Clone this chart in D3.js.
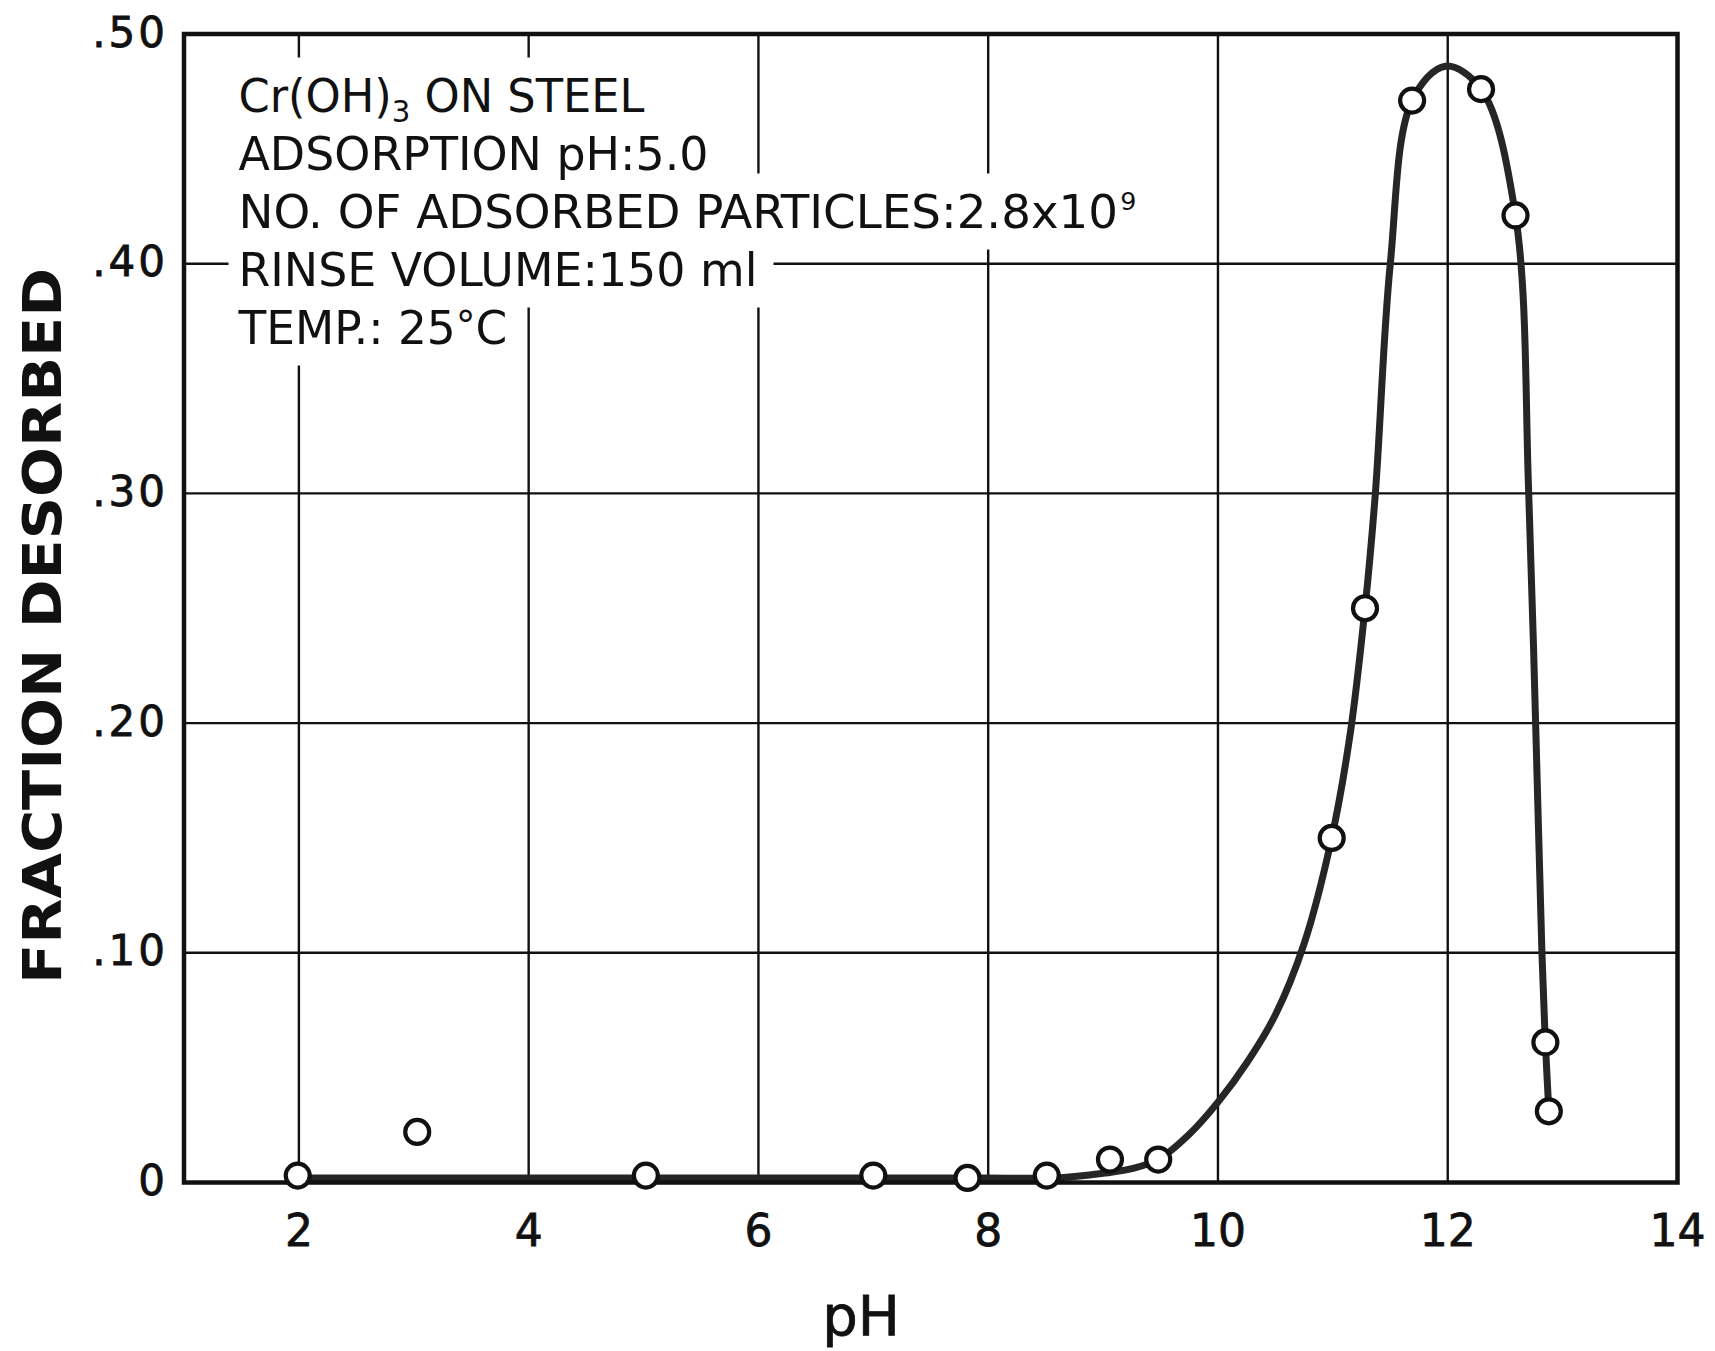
<!DOCTYPE html>
<html>
<head>
<meta charset="utf-8">
<script src="https://cdn.jsdelivr.net/npm/d3@7"></script>
<style>
  html, body { margin: 0; padding: 0; background: #fff; }
  svg { display: block; }
</style>
</head>
<body>
<script>
// Measured points: pH of the rinse vs. fraction of particles desorbed
const phValues = [1.99, 3.03, 5.02, 7.00, 7.82, 8.51, 9.06, 9.48, 10.99, 11.28, 11.69, 12.29, 12.59, 12.85, 12.88];
const fractionDesorbed = [0.003, 0.022, 0.003, 0.003, 0.002, 0.003, 0.010, 0.010, 0.150, 0.250, 0.471, 0.476, 0.421, 0.061, 0.031];

// Hand-drawn smooth curve through the measurements
const curvePH = [2.0, 3.0, 4.0, 5.0, 6.0, 7.0, 8.0, 8.6, 9.0, 9.25, 9.48, 9.75, 10.0, 10.25, 10.5, 10.75, 10.99, 11.15, 11.28, 11.37, 11.5, 11.69, 11.98, 12.29, 12.59, 12.705, 12.765, 12.82, 12.85, 12.88];
const curveFraction = [0.002, 0.002, 0.002, 0.002, 0.002, 0.002, 0.002, 0.002, 0.004, 0.006, 0.010, 0.021, 0.035, 0.052, 0.073, 0.104, 0.150, 0.195, 0.250, 0.300, 0.400, 0.471, 0.486, 0.476, 0.421, 0.300, 0.200, 0.100, 0.061, 0.031];

// Axis ticks and labels
const xTickValues = [2, 4, 6, 8, 10, 12, 14];
const xTickLabels = ["2", "4", "6", "8", "10", "12", "14"];
const yTickValues = [0, 0.1, 0.2, 0.3, 0.4, 0.5];
const yTickLabels = ["0", ".10", ".20", ".30", ".40", ".50"];
const xGridValues = [2, 4, 6, 8, 10, 12];
const yGridValues = [0.1, 0.2, 0.3, 0.4];

const xTitle = "pH";
const yTitle = "FRACTION DESORBED";

// Experimental conditions, one entry per line (segments allow sub/superscripts)
const noteLines = [
  [{ t: "Cr(OH)" }, { t: "3", sub: true }, { t: " ON STEEL" }],
  [{ t: "ADSORPTION pH:5.0" }],
  [{ t: "NO. OF ADSORBED PARTICLES:2.8x10" }, { t: "9", sup: true }],
  [{ t: "RINSE VOLUME:150 ml" }],
  [{ t: "TEMP.: 25" }, { t: "°", deg: true }, { t: "C" }]
];

// ---- layout ----
const W = 1715, H = 1351;
const plot = { left: 184, right: 1677.5, top: 34, bottom: 1182.5 };
const noteLeft = 238.5, noteBaseline0 = 111.5, noteStep = 58;
const noteWidths = [406, 470, 898, 519, 270];

const svg = d3.select("body").append("svg")
  .attr("width", W).attr("height", H)
  .attr("viewBox", `0 0 ${W} ${H}`);

svg.append("rect").attr("width", W).attr("height", H).attr("fill", "#fff");

const x = d3.scaleLinear().domain([1, 14]).range([plot.left, plot.right]);
const y = d3.scaleLinear().domain([0, 0.5]).range([plot.bottom, plot.top]);

const ink = "#111";

// grid
const grid = svg.append("g").attr("stroke", ink).attr("stroke-width", 2.4);
grid.selectAll("line.gx").data(xGridValues).join("line")
  .attr("class", "gx")
  .attr("x1", d => x(d)).attr("x2", d => x(d))
  .attr("y1", plot.top).attr("y2", plot.bottom);
grid.selectAll("line.gy").data(yGridValues).join("line")
  .attr("class", "gy")
  .attr("x1", plot.left).attr("x2", plot.right)
  .attr("y1", d => y(d)).attr("y2", d => y(d));

// note block: white knock-outs behind each line, then the text
const knock = svg.append("g");
const notes = svg.append("g")
  .attr("font-family", "'DejaVu Sans Condensed', 'Liberation Sans Narrow', 'DejaVu Sans', sans-serif")
  .attr("font-size", 46)
  .attr("fill", ink);

noteLines.forEach((segs, i) => {
  const base = noteBaseline0 + i * noteStep;
  const t = notes.append("text").attr("x", 0).attr("y", 0);
  let shift = 0; // current vertical offset of the running baseline
  segs.forEach(s => {
    const ts = t.append("tspan").text(s.t);
    let target = 0;
    if (s.sub) { ts.attr("font-size", 30); target = 10; }
    else if (s.sup) { ts.attr("font-size", 25).attr("dx", 2); target = -18; }
    else if (s.deg) { ts.attr("font-size", 40); target = -4; }
    ts.attr("dy", target - shift);
    shift = target;
  });
  const natural = t.node().getBBox().width;
  const sx = noteWidths[i] / natural;
  t.attr("transform", `translate(${noteLeft},${base}) scale(${sx},1)`);
  knock.append("rect")
    .attr("x", noteLeft - 10)
    .attr("y", base - 54)
    .attr("width", noteWidths[i] + 26)
    .attr("height", 76)
    .attr("fill", "#fff");
});

// fitted curve
const curveLine = d3.line()
  .x(d => x(d[0]))
  .y(d => y(d[1]))
  .curve(d3.curveCatmullRom.alpha(0.5));
svg.append("path")
  .datum(curvePH.map((p, i) => [p, curveFraction[i]]))
  .attr("d", curveLine)
  .attr("fill", "none")
  .attr("stroke", "#262626")
  .attr("stroke-width", 7)
  .attr("stroke-linejoin", "round")
  .attr("stroke-linecap", "round");

// frame
svg.append("rect")
  .attr("x", plot.left).attr("y", plot.top)
  .attr("width", plot.right - plot.left)
  .attr("height", plot.bottom - plot.top)
  .attr("fill", "none")
  .attr("stroke", ink)
  .attr("stroke-width", 4.5);

// data points
svg.append("g").selectAll("circle")
  .data(phValues.map((p, i) => [p, fractionDesorbed[i]]))
  .join("circle")
  .attr("cx", d => x(d[0]))
  .attr("cy", d => y(d[1]))
  .attr("r", 12)
  .attr("fill", "#fff")
  .attr("stroke", ink)
  .attr("stroke-width", 4.2);

// tick labels
const tickFont = "'DejaVu Sans', 'Noto Sans', sans-serif";
svg.append("g").selectAll("text")
  .data(xTickValues)
  .join("text")
  .attr("x", d => x(d))
  .attr("y", plot.bottom + 48)
  .attr("text-anchor", "middle")
  .attr("dominant-baseline", "central")
  .attr("font-family", tickFont)
  .attr("font-size", 44)
  .attr("fill", ink)
  .attr("stroke", ink)
  .attr("stroke-width", 0.8)
  .text((d, i) => xTickLabels[i]);

svg.append("g").selectAll("text")
  .data(yTickValues)
  .join("text")
  .attr("x", 168)
  .attr("y", d => y(d) - 2)
  .attr("text-anchor", "end")
  .attr("dominant-baseline", "central")
  .attr("font-family", tickFont)
  .attr("font-size", 42)
  .attr("letter-spacing", 3)
  .attr("fill", ink)
  .attr("stroke", ink)
  .attr("stroke-width", 0.8)
  .text((d, i) => yTickLabels[i]);

// axis titles
svg.append("text")
  .attr("x", 861)
  .attr("y", 1335)
  .attr("text-anchor", "middle")
  .attr("font-family", tickFont)
  .attr("font-size", 56)
  .attr("fill", ink)
  .attr("stroke", ink)
  .attr("stroke-width", 0.8)
  .text(xTitle);

svg.append("text")
  .attr("transform", "translate(42,626) rotate(-90)")
  .attr("text-anchor", "middle")
  .attr("dominant-baseline", "central")
  .attr("font-family", tickFont)
  .attr("font-weight", "bold")
  .attr("font-size", 54)
  .attr("textLength", 716)
  .attr("lengthAdjust", "spacingAndGlyphs")
  .attr("fill", ink)
  .text(yTitle);
</script>
</body>
</html>
